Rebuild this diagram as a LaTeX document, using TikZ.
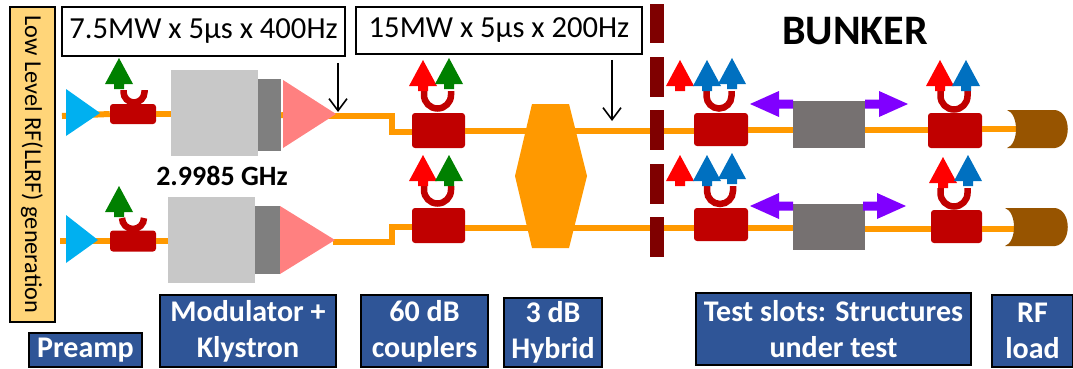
\documentclass[tikz,border=0pt]{standalone}
\usepackage{fontspec}
\setmainfont{Carlito}
\definecolor{wgorange}{HTML}{FF9900}
\definecolor{cplred}{HTML}{C00000}
\definecolor{ugreen}{HTML}{008000}
\definecolor{ublue}{HTML}{0070C0}
\definecolor{preampblue}{HTML}{00B0F0}
\definecolor{klypink}{HTML}{FF8080}
\definecolor{modgrey}{HTML}{C8C8C8}
\definecolor{colgrey}{HTML}{7F7F7F}
\definecolor{slotgrey}{HTML}{767171}
\definecolor{wallred}{HTML}{7F0000}
\definecolor{lblblue}{HTML}{2F5597}
\definecolor{llrfyellow}{HTML}{FFD579}
\definecolor{loadbrown}{HTML}{975400}
\definecolor{slotviolet}{HTML}{8000FF}
\usetikzlibrary{arrows.meta}
\tikzset{
  wguide/.style={draw=wgorange,line width=6pt},
  coupler/.style={fill=cplred,rounded corners=3pt,inner sep=0pt},
  block/.style={inner sep=0pt},
  lbl/.style={draw=black,line width=1.5pt,fill=lblblue,text=white,inner sep=0pt,align=center,
    font=\fontsize{30}{36}\selectfont\bfseries},
  powerbox/.style={draw=black,line width=1.5pt,fill=white,inner sep=0pt,
    font=\fontsize{30.6}{34}\selectfont},
  ubend/.style={draw=cplred,line width=6.5pt},
  probe/.style={-{Straight Barb[length=12pt,width=18pt]},line width=1.6pt}
}
% up arrow above a coupler: x, tip y, colour
\newcommand{\sigarrow}[3]{
  \fill[#3] (#1,#2) -- ++(14,26) -- ++(-9,0) -- ++(0,5) -- ++(-10,0) -- ++(0,-5) -- ++(-9,0) -- cycle;
}
% u-shaped loop: centre x, top y, radius, straight part
\newcommand{\ubendat}[4]{
  \draw[ubend] (#1-#3,#2) -- ++(0,#4) arc[start angle=180,end angle=360,radius=#3 pt] -- ++(0,-#4);
}
% sideways arrow: base x, y, direction
\newcommand{\sidearrow}[3]{
  \fill[slotviolet] (#1,#2-4.5) -- ++(#3*14,0) -- ++(0,-8.5) -- ++(#3*29,13) -- ++(-#3*29,13) -- ++(0,-8.5) -- ++(-#3*14,0) -- cycle;
}
\begin{document}
\begin{tikzpicture}[x=1pt,y=-1pt]
  \useasboundingbox (0,0) rectangle (1073,369);

  \node[draw=black,line width=1.5pt,fill=llrfyellow,minimum width=45pt,minimum height=315pt,inner sep=0pt] (llrf) at (32.5,164.5) {};
  \node[rotate=-90,font=\fontsize{24.3}{28}\selectfont] (llrftext) at (32,164.5) {Low Level RF(LLRF) generation};

  \node[powerbox,minimum width=283pt,minimum height=49pt] (powerA) at (203.5,31.5) {7.5MW x 5µs x 400Hz};
  \node[powerbox,minimum width=286pt,minimum height=47pt] (powerB) at (499,30.5) {15MW x 5µs x 200Hz};

  \node[font=\fontsize{28}{32}\selectfont\bfseries] (freq) at (222,176) {2.9985 GHz};
  \node[font=\fontsize{42}{48}\selectfont\bfseries] (bunker) at (855,31) {BUNKER};

  \coordinate (inA) at (62,116);
  \coordinate (inB) at (60,241);
  \coordinate (klyA) at (334,116);
  \coordinate (klyB) at (333,242);
  \coordinate (loadA) at (1016,129);
  \coordinate (loadB) at (1014,229);

  \node[coupler,minimum width=46pt,minimum height=20pt] (cplA) at (133,114) {};
  \node[coupler,minimum width=46pt,minimum height=21pt] (cplB) at (133,241) {};
  \node[coupler,minimum width=53pt,minimum height=35pt] (cplC) at (438.5,130.5) {};
  \node[coupler,minimum width=53pt,minimum height=35pt] (cplD) at (438.5,225.5) {};
  \node[coupler,minimum width=54pt,minimum height=33pt] (cplE) at (721,129.5) {};
  \node[coupler,minimum width=54pt,minimum height=33pt] (cplF) at (721,224.5) {};
  \node[coupler,minimum width=54pt,minimum height=35pt] (cplG) at (955,130.5) {};
  \node[coupler,minimum width=51pt,minimum height=33pt] (cplH) at (956.5,226.5) {};

  \node[block,fill=modgrey,minimum width=87pt,minimum height=86pt] (modA) at (214.5,113) {};
  \node[block,fill=colgrey,minimum width=23pt,minimum height=72pt] (colA) at (269.5,115) {};
  \node[block,fill=modgrey,minimum width=87pt,minimum height=86pt] (modB) at (211.5,240) {};
  \node[block,fill=colgrey,minimum width=25pt,minimum height=68pt] (colB) at (267.5,240) {};

  \node[block,fill=slotgrey,minimum width=72pt,minimum height=47pt] (slotA) at (829,124.5) {};
  \node[block,fill=slotgrey,minimum width=72pt,minimum height=46pt] (slotB) at (829,227) {};

  \draw[wguide] (inA) -- (cplA.west);
  \draw[wguide] (inB) -- (cplB.west);
  \draw[wguide] (cplA.east) -- (modA.west|-cplA);
  \draw[wguide] (cplB.east) -- (modB.west|-cplB);
  \draw[wguide] (klyA) -| (391.5,131.5) -- (cplC.west|-0,131.5);
  \draw[wguide] (klyB) -| (391.5,227) -- (cplD.west|-0,227);
  \draw[wguide] (colA.east) -- (klyA);
  \draw[wguide] (cplC.east|-0,131) -- (cplE.west|-0,131);
  \draw[wguide] (cplD.east|-0,227.5) -- (cplF.west|-0,227.5);
  \draw[wguide] (cplE.east|-0,130) -- (slotA.west|-0,130);
  \draw[wguide] (cplF.east|-0,228) -- (slotB.west|-0,228);
  \draw[wguide] (slotA.east|-0,129.5) -- (cplG.west|-0,129.5);
  \draw[wguide] (slotB.east|-0,228.5) -- (cplH.west|-0,228.5);
  \draw[wguide] (cplG.east|-loadA) -- (loadA);
  \draw[wguide] (cplH.east|-loadB) -- (loadB);

  \fill[preampblue] (66,89) -- (66,136) -- (100,113) -- cycle;
  \fill[preampblue] (66,215) -- (66,263) -- (98,240) -- cycle;
  \fill[klypink] (283,80) -- (283,148) -- (336,114) -- cycle;
  \fill[klypink] (280,206) -- (280,274) -- (335,240) -- cycle;

  \fill[wgorange] (532,104) -- (569,104) -- (587,176) -- (569,248) -- (532,248) -- (515,176) -- cycle;

  \foreach \ya in {4,57,110,164,217}
    \fill[wallred] (650,\ya) rectangle (664,\ya+39.5);

  \ubendat{134}{90}{10.5}{2}
  \ubendat{133}{218}{11}{0}
  \ubendat{437.5}{91}{13.5}{4}
  \ubendat{437.5}{186}{13.5}{4}
  \ubendat{719}{91}{12.5}{5}
  \ubendat{720}{186}{13}{5}
  \ubendat{954}{91}{13.5}{5}
  \ubendat{954}{188}{13.5}{5}

  \sigarrow{119}{58}{ugreen}
  \sigarrow{119}{186}{ugreen}
  \sigarrow{423}{60}{red}
  \sigarrow{449}{58}{ugreen}
  \sigarrow{423}{155}{red}
  \sigarrow{449}{155}{ugreen}
  \sigarrow{680}{60}{red}
  \sigarrow{707}{60}{ublue}
  \sigarrow{732}{58}{ublue}
  \sigarrow{680}{155}{red}
  \sigarrow{707}{155}{ublue}
  \sigarrow{732}{153}{ublue}
  \sigarrow{940}{60}{red}
  \sigarrow{966}{60}{ublue}
  \sigarrow{943}{157}{red}
  \sigarrow{968}{155}{ublue}

  \sidearrow{793}{104}{-1}
  \sidearrow{865}{104}{1}
  \sidearrow{793}{206}{-1}
  \sidearrow{863}{206}{1}

  \fill[loadbrown] (1007,110) -- (1055,110) .. controls (1072,112) and (1072,146) .. (1055,148) -- (1007,148) .. controls (1019,144) and (1019,114) .. (1007,110) -- cycle;
  \fill[loadbrown] (1005,208) -- (1055,208) .. controls (1072,210) and (1072,244) .. (1055,246) -- (1005,246) .. controls (1017,242) and (1017,212) .. (1005,208) -- cycle;

  \coordinate (probeAend) at (338,112);
  \coordinate (probeBend) at (612,121);
  \draw[probe] (338,63) -- (probeAend);
  \draw[probe] (612,60) -- (probeBend);

  \node[lbl,minimum width=113pt,minimum height=34pt] (lblPreamp) at (85.5,350) {Preamp};
  \node[lbl,minimum width=176pt,minimum height=72pt] (lblKly) at (248,331) {Modulator +\\Klystron};
  \node[lbl,minimum width=127pt,minimum height=72pt] (lblCpl) at (424.5,331) {60 dB\\couplers};
  \node[lbl,minimum width=98pt,minimum height=69pt] (lblHyb) at (553,332.5) {3 dB\\Hybrid};
  \node[lbl,minimum width=275pt,minimum height=72pt] (lblSlots) at (833.5,329) {Test slots: Structures\\under test};
  \node[lbl,minimum width=81pt,minimum height=72pt] (lblLoad) at (1032.5,331) {RF\\load};
\end{tikzpicture}
\end{document}
